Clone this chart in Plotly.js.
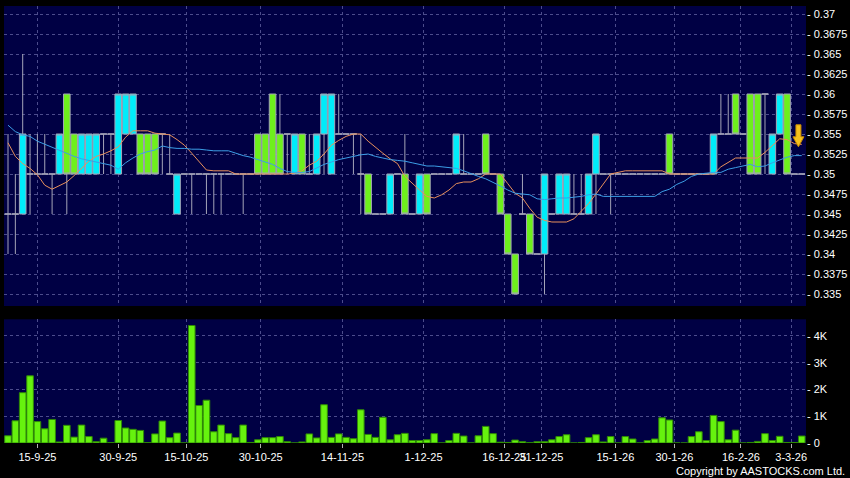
<!DOCTYPE html>
<html><head><meta charset="utf-8">
<script src="https://cdn.plot.ly/plotly-3.0.1.min.js"></script>
<style>html,body{margin:0;padding:0;background:#000;}#chart{width:850px;height:478px;}</style>
</head><body><div id="chart"></div>
<script>
// ---- data (index = trading day, 9-9-25 .. 3-3-26) ----
const openP = [0.345,0.345,0.345,0.35,0.35,0.35,0.35,0.35,0.36,0.355,
0.35,0.35,0.35,0.355,0.355,0.35,0.355,0.355,0.355,0.355,
0.355,0.355,0.35,0.345,0.35,0.35,0.35,0.35,0.35,0.35,
0.35,0.35,0.35,0.35,0.355,0.355,0.36,0.355,0.355,0.35,
0.355,0.35,0.35,0.355,0.35,0.355,0.355,0.355,0.35,0.35,
0.345,0.345,0.345,0.35,0.35,0.345,0.345,0.35,0.35,0.35,
0.35,0.35,0.35,0.35,0.35,0.355,0.35,0.35,0.345,0.34,
0.345,0.345,0.34,0.34,0.345,0.345,0.345,0.345,0.345,0.345,
0.35,0.35,0.35,0.35,0.35,0.35,0.35,0.35,0.35,0.35,
0.355,0.35,0.35,0.35,0.35,0.35,0.35,0.355,0.355,0.36,
0.355,0.36,0.36,0.36,0.35,0.355,0.36,0.35,0.35];
const highP = [0.355,0.35,0.365,0.355,0.355,0.355,0.35,0.355,0.36,0.355,
0.355,0.355,0.355,0.355,0.355,0.36,0.36,0.36,0.355,0.355,
0.355,0.355,0.355,0.35,0.35,0.35,0.35,0.35,0.35,0.35,
0.35,0.35,0.35,0.35,0.355,0.355,0.36,0.36,0.355,0.355,
0.355,0.355,0.355,0.36,0.36,0.36,0.355,0.355,0.355,0.35,
0.345,0.345,0.35,0.35,0.355,0.345,0.35,0.35,0.35,0.35,
0.35,0.355,0.355,0.35,0.35,0.355,0.35,0.35,0.345,0.34,
0.35,0.345,0.34,0.35,0.345,0.35,0.35,0.35,0.35,0.35,
0.355,0.35,0.35,0.35,0.35,0.35,0.35,0.35,0.35,0.35,
0.355,0.35,0.35,0.35,0.35,0.35,0.355,0.36,0.36,0.36,
0.355,0.36,0.36,0.36,0.355,0.36,0.36,0.35,0.35];
const lowP = [0.34,0.34,0.345,0.345,0.35,0.35,0.345,0.35,0.345,0.35,
0.35,0.35,0.35,0.35,0.35,0.35,0.355,0.355,0.35,0.35,
0.35,0.35,0.35,0.345,0.35,0.345,0.35,0.345,0.345,0.345,
0.35,0.35,0.345,0.35,0.35,0.35,0.35,0.35,0.35,0.35,
0.35,0.35,0.35,0.35,0.35,0.355,0.355,0.35,0.345,0.345,
0.345,0.345,0.345,0.35,0.345,0.345,0.345,0.345,0.35,0.35,
0.35,0.35,0.35,0.35,0.35,0.35,0.35,0.345,0.34,0.335,
0.345,0.34,0.34,0.335,0.345,0.345,0.345,0.345,0.345,0.345,
0.345,0.35,0.345,0.35,0.35,0.35,0.35,0.35,0.35,0.35,
0.35,0.35,0.35,0.35,0.35,0.35,0.35,0.355,0.355,0.355,
0.355,0.35,0.35,0.35,0.35,0.355,0.35,0.35,0.35];
const closeP = [0.345,0.345,0.355,0.35,0.35,0.35,0.35,0.355,0.35,0.35,
0.355,0.355,0.355,0.355,0.355,0.36,0.36,0.36,0.35,0.35,
0.35,0.355,0.35,0.35,0.35,0.35,0.35,0.35,0.35,0.35,
0.35,0.35,0.35,0.35,0.35,0.35,0.35,0.35,0.355,0.355,
0.35,0.35,0.355,0.36,0.36,0.355,0.355,0.355,0.35,0.345,
0.345,0.345,0.35,0.35,0.345,0.345,0.35,0.345,0.35,0.35,
0.35,0.355,0.35,0.35,0.35,0.35,0.35,0.345,0.34,0.335,
0.345,0.34,0.34,0.35,0.345,0.35,0.35,0.345,0.345,0.35,
0.355,0.35,0.35,0.35,0.35,0.35,0.35,0.35,0.35,0.35,
0.35,0.35,0.35,0.35,0.35,0.35,0.355,0.355,0.355,0.355,
0.355,0.35,0.35,0.36,0.355,0.36,0.35,0.35,0.35];
const volume = [270,830,1880,2510,800,530,880,40,660,220,
670,240,50,180,10,840,560,510,470,10,
340,820,200,370,0,4390,1400,1600,420,670,
350,200,670,20,120,200,200,240,50,0,
40,340,190,1430,210,340,210,160,1240,320,
210,960,120,310,360,90,90,120,350,0,
90,360,260,0,270,620,350,30,20,110,
50,10,50,50,120,240,310,0,20,200,
310,40,240,0,240,150,0,90,150,940,
860,0,0,240,420,90,1030,800,120,480,
0,20,60,350,90,250,20,20,260];
const maShort = [0.3539,0.3522,0.3513,0.3507,0.3499,0.3486,0.3481,0.3486,0.3490,0.3498,
0.3507,0.3516,0.3522,0.3525,0.3529,0.3534,0.3546,0.3554,0.3554,0.3554,
0.3551,0.3550,0.3549,0.3543,0.3536,0.3526,0.3515,0.3505,0.3504,0.3504,
0.3504,0.3500,0.3500,0.3500,0.3500,0.3500,0.3500,0.3500,0.3500,0.3501,
0.3504,0.3511,0.3516,0.3525,0.3536,0.3542,0.3547,0.3550,0.3550,0.3541,
0.3533,0.3526,0.3519,0.3513,0.3497,0.3488,0.3480,0.3472,0.3470,0.3474,
0.3480,0.3488,0.3490,0.3490,0.3494,0.3500,0.3500,0.3500,0.3488,0.3476,
0.3470,0.3457,0.3446,0.3442,0.3440,0.3440,0.3440,0.3444,0.3453,0.3463,
0.3475,0.3488,0.3500,0.3502,0.3504,0.3504,0.3504,0.3504,0.3504,0.3504,
0.3500,0.3500,0.3500,0.3500,0.3500,0.3500,0.3500,0.3509,0.3515,0.3520,
0.3520,0.3520,0.3520,0.3527,0.3535,0.3544,0.3543,0.3538,0.3537];
const maLong = [0.3561,0.3553,0.3549,0.3547,0.3541,0.3537,0.3534,0.3530,0.3526,0.3522,
0.3519,0.3517,0.3515,0.3513,0.3511,0.3506,0.3514,0.3520,0.3525,0.3528,
0.3530,0.3535,0.3533,0.3532,0.3532,0.3531,0.3531,0.3530,0.3529,0.3529,
0.3529,0.3526,0.3523,0.3521,0.3518,0.3515,0.3512,0.3507,0.3503,0.3502,
0.3502,0.3503,0.3508,0.3512,0.3515,0.3518,0.3520,0.3522,0.3524,0.3525,
0.3522,0.3520,0.3518,0.3517,0.3516,0.3514,0.3512,0.3510,0.3510,0.3509,
0.3508,0.3507,0.3504,0.3500,0.3497,0.3494,0.3490,0.3485,0.3480,0.3476,
0.3475,0.3474,0.3469,0.3468,0.3469,0.3470,0.3470,0.3471,0.3472,0.3474,
0.3475,0.3472,0.3472,0.3472,0.3472,0.3472,0.3472,0.3472,0.3472,0.3478,
0.3481,0.3487,0.3491,0.3497,0.3500,0.3501,0.3502,0.3502,0.3506,0.3508,
0.3510,0.3512,0.3509,0.3510,0.3514,0.3518,0.3521,0.3523,0.3523];
const dateLabels = ['15-9-25','30-9-25','15-10-25','30-10-25','14-11-25','1-12-25','16-12-25','31-12-25','15-1-26','30-1-26','16-2-26','3-3-26'];
const dateTickPos = [4,15,24.27,34.38,45.5,56.54,67.53,72.57,82.64,90.67,99.73,106.56];
const priceTicks = [0.335,0.3375,0.34,0.3425,0.345,0.3475,0.35,0.3525,0.355,0.3575,0.36,0.3625,0.365,0.3675,0.37];
const priceTickText = ['0.335','0.3375','0.34','0.3425','0.345','0.3475','0.35','0.3525','0.355','0.3575','0.36','0.3625','0.365','0.3675','0.37'];
const volTicks = [0,1000,2000,3000,4000];
const volTickText = ['0','1K','2K','3K','4K'];

const idx = closeP.map((_, i) => i);
const FONT = 'Liberation Sans, Arial, sans-serif';
const GRID = '#4c4c8c';
const last = idx.length - 1;

// yellow "last" marker arrow, placed from the data at the last bar
const ax = idx[last] - 0.45, tipY = maShort[last] - 0.0003;
const arrowPath = 'M' + (ax - 0.34) + ',' + (tipY + 0.00275) + ' L' + (ax + 0.34) + ',' + (tipY + 0.00275) +
  ' L' + (ax + 0.34) + ',' + (tipY + 0.00125) + ' L' + (ax + 0.75) + ',' + (tipY + 0.00125) +
  ' L' + ax + ',' + tipY + ' L' + (ax - 0.75) + ',' + (tipY + 0.00125) +
  ' L' + (ax - 0.34) + ',' + (tipY + 0.00125) + ' Z';

const traces = [
  {type:'candlestick', x:idx, open:openP, high:highP, low:lowP, close:closeP,
   xaxis:'x', yaxis:'y', whiskerwidth:0, hoverinfo:'skip',
   increasing:{line:{color:'#a4a4b8', width:1}, fillcolor:'#00ecfa'},
   decreasing:{line:{color:'#a4a4b8', width:1}, fillcolor:'#6ef01c'}},
  {type:'scatter', mode:'lines', x:idx, y:maShort, xaxis:'x', yaxis:'y',
   line:{color:'#e8905c', width:1}, hoverinfo:'skip'},
  {type:'scatter', mode:'lines', x:idx, y:maLong, xaxis:'x', yaxis:'y',
   line:{color:'#3c9ee6', width:1}, hoverinfo:'skip'},
  {type:'bar', x:idx, y:volume, xaxis:'x2', yaxis:'y2',
   marker:{color:'#66f20e', line:{color:'#2f8a06', width:1}}, hoverinfo:'skip'}
];

const axFont = {family:FONT, size:11, color:'#ffffff'};
const layout = {
  width:850, height:478, showlegend:false,
  paper_bgcolor:'#000000', plot_bgcolor:'#000044',
  margin:{l:4, r:44, t:6, b:35, pad:0},
  bargap:0.1, boxgap:0.1, boxgroupgap:0,
  xaxis:{domain:[0,1], anchor:'y', range:[-0.545,108.58], tickvals:dateTickPos, ticktext:dateLabels,
    showticklabels:false, ticks:'', showgrid:true, gridcolor:GRID, griddash:'3px,3px', gridwidth:1,
    zeroline:false, showline:false, rangeslider:{visible:false}, fixedrange:true},
  xaxis2:{domain:[0,1], anchor:'y2', matches:'x', tickvals:dateTickPos, ticktext:dateLabels,
    showticklabels:true, tickangle:0, ticks:'outside', ticklen:4, tickcolor:'#b0b0b0', tickfont:axFont,
    showgrid:true, gridcolor:GRID, griddash:'3px,3px', gridwidth:1,
    zeroline:false, showline:false, rangeslider:{visible:false}, fixedrange:true},
  yaxis:{domain:[0.3135,1], anchor:'x', side:'right', range:[0.3335,0.371],
    tickvals:priceTicks, ticktext:priceTickText.map(t => '- ' + t), ticks:'', tickfont:axFont,
    showgrid:true, gridcolor:GRID, griddash:'3px,3px', gridwidth:1, zeroline:false, showline:false, fixedrange:true},
  yaxis2:{domain:[0,0.2831], anchor:'x2', side:'right', range:[0,4622],
    tickvals:volTicks, ticktext:volTickText.map(t => '- ' + t), ticks:'', tickfont:axFont,
    showgrid:true, gridcolor:GRID, griddash:'3px,3px', gridwidth:1, zeroline:false, showline:false, fixedrange:true},
  shapes:[{type:'path', xref:'x', yref:'y', path:arrowPath, fillcolor:'#f6c21c',
    line:{color:'#c88a00', width:1}, layer:'above'}],
  annotations:[{xref:'paper', yref:'paper', x:1.0505, y:-0.064, xanchor:'right', yanchor:'middle',
    text:'Copyright by AASTOCKS.com Ltd.', showarrow:false, font:{family:FONT, size:11, color:'#ffffff'}}]
};
Plotly.newPlot('chart', traces, layout, {staticPlot:true, displayModeBar:false});
</script></body></html>
